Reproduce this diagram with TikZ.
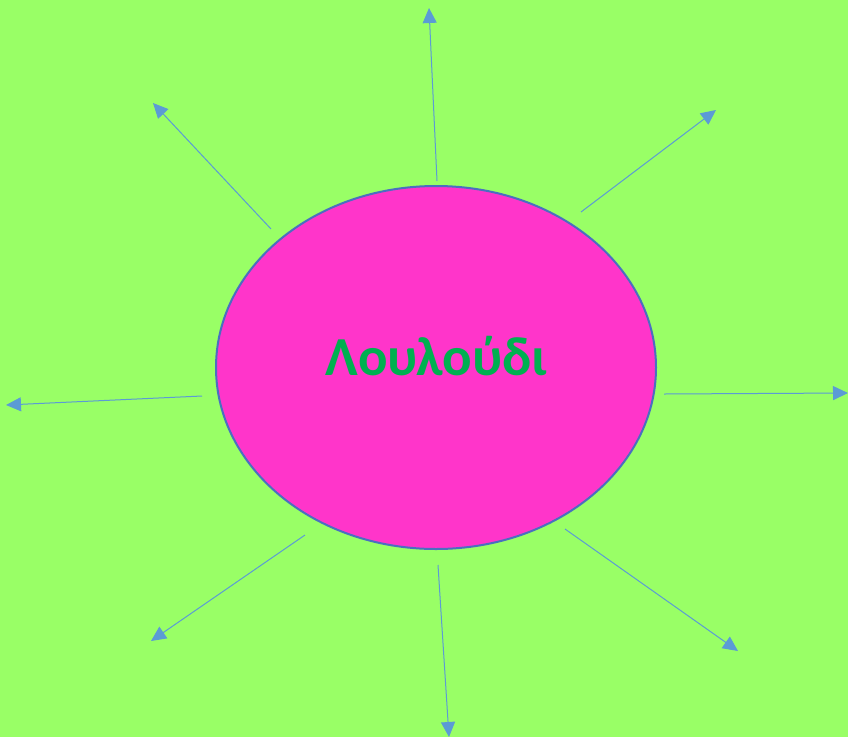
\documentclass[tikz,border=0pt]{standalone}
\usepackage{fontspec}
\setmainfont{Carlito}
\usetikzlibrary{arrows.meta}
\definecolor{bgGreen}{HTML}{99FF66}
\definecolor{petal}{HTML}{FF35CA}
\definecolor{rim}{HTML}{4A6FC0}
\definecolor{ray}{HTML}{5B9BD5}
\definecolor{word}{HTML}{00B050}
\tikzset{
  ray/.style={draw=ray,line width=1pt,-{Triangle[length=15pt,width=14pt]}},
  flower/.style={draw=rim,fill=petal,line width=2pt}
}
\begin{document}
\begin{tikzpicture}[x=1pt,y=-1pt]
\fill[bgGreen] (0,0) rectangle (848,737);
\useasboundingbox (0,0) rectangle (848,737);
\filldraw[flower] (436,367.5) ellipse [x radius=220,y radius=181.5];
\node[text=word,font=\bfseries\fontsize{55}{58}\selectfont,anchor=base,inner sep=0pt] (name) at (436.5,375) {Λουλούδι};
% rays
\foreach \sx/\sy/\ex/\ey [count=\i] in {437/181/429/8, 581/212/716/110, 664/394/848/393,
  565/529/738/651, 438/565/449/737, 305/535/151/641, 202/396/6/405, 271/229/153/103}{
\coordinate (s\i) at (\sx,\sy);
\coordinate (e\i) at (\ex,\ey);
\draw[ray] (s\i) -- (e\i);
}
\end{tikzpicture}
\end{document}
